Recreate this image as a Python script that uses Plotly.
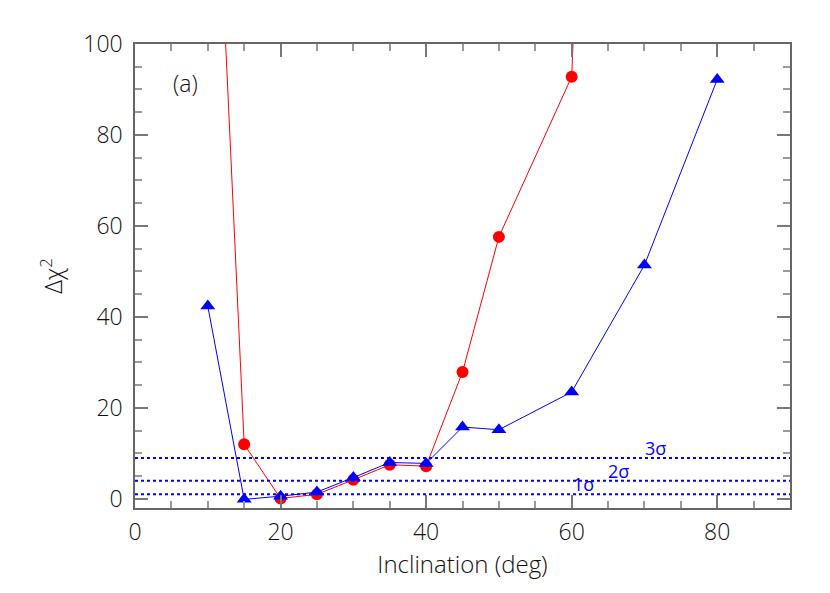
import plotly.graph_objects as go

# inclination grid (deg) and delta chi^2 for each model
incl_red = [10, 15, 20, 25, 30, 35, 40, 45, 50, 60, 70]
chi_red = [185, 12, 0.1, 1.0, 4.2, 7.5, 7.2, 27.9, 57.6, 92.8, 480]

incl_blue = [10, 15, 20, 25, 30, 35, 40, 45, 50, 60, 70, 80]
chi_blue = [42.4, -0.1, 0.6, 1.5, 4.7, 8.0, 7.8, 15.8, 15.2, 23.5, 51.4, 92.2]

# confidence levels
sigma_levels = [1, 4, 9]
sigma_labels = ["1σ", "2σ", "3σ"]
sigma_label_x = [61.6, 66.4, 71.5]

thin = "Open Sans, DejaVu Sans, sans-serif"
ink = "#111111"

fig = go.Figure()

fig.add_trace(go.Scatter(
    x=incl_red, y=chi_red, mode="lines+markers",
    line=dict(color="#ff0000", width=1),
    marker=dict(symbol="circle", size=12, color="#ff0000"),
    showlegend=False,
))
fig.add_trace(go.Scatter(
    x=incl_blue, y=chi_blue, mode="lines+markers",
    line=dict(color="#0000ff", width=1),
    marker=dict(symbol="triangle-up", size=13, color="#0000ff"),
    showlegend=False,
))

for lvl, lab, lx in zip(sigma_levels, sigma_labels, sigma_label_x):
    fig.add_shape(type="line", xref="paper", x0=0, x1=1, y0=lvl, y1=lvl,
                  line=dict(color="#0000ff", width=2, dash="dot"))
    fig.add_annotation(x=lx, y=lvl, text=lab, showarrow=False,
                       yanchor="bottom", yshift=-4,
                       font=dict(size=18, color="#0000ff", family=thin))

fig.add_annotation(x=6.9, y=91.5, text="(a)", showarrow=False,
                   font=dict(size=23, color=ink, family=thin, weight=300))

axis_common = dict(
    showline=True, linecolor="#666666", linewidth=1.5, mirror="ticks",
    ticks="inside", ticklen=13, tickcolor="#777777", tickwidth=1.5,
    showgrid=False, zeroline=False, automargin=False,
    tickfont=dict(size=23, color=ink, family=thin, weight=300),
)

fig.update_xaxes(
    range=[0, 90], tickvals=[0, 20, 40, 60, 80],
    minor=dict(dtick=5, tick0=0, ticks="inside", ticklen=7,
               tickcolor="#999999", tickwidth=1.5, showgrid=False),
    title=dict(text="Inclination (deg)",
               font=dict(size=24, color=ink, family=thin, weight=300),
               standoff=0),
    ticklabelstandoff=3,
    **axis_common,
)
fig.update_yaxes(
    range=[-2, 100], tickvals=[0, 20, 40, 60, 80, 100],
    minor=dict(dtick=5, tick0=0, ticks="inside", ticklen=7,
               tickcolor="#999999", tickwidth=1.5, showgrid=False),
    title=dict(text="Δχ<sup>2</sup>",
               font=dict(size=24, color=ink, family=thin, weight=300),
               standoff=14),
    ticklabelstandoff=6,
    **axis_common,
)

# page body adds an 8 px offset, so the figure is a bit smaller
fig.update_layout(
    width=822, height=585,
    margin=dict(l=127, r=40, t=36, b=85),
    paper_bgcolor="white", plot_bgcolor="white",
    font=dict(family=thin, color=ink),
)

fig.write_html("out.html")
